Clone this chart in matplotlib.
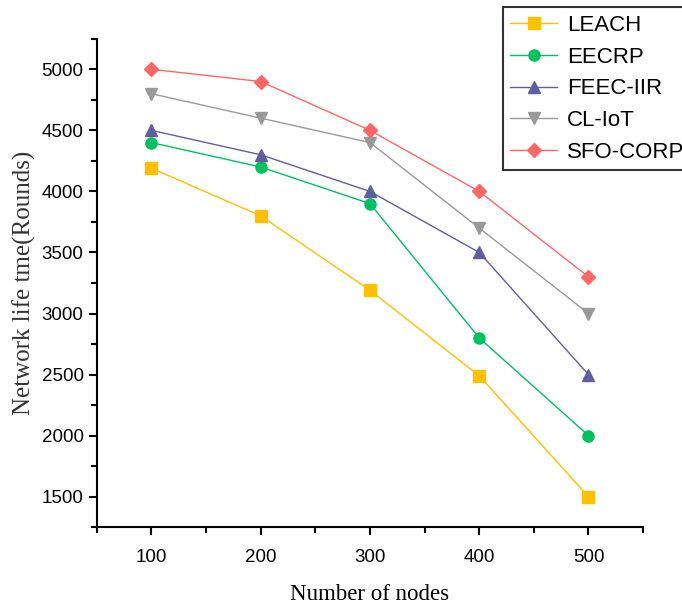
import matplotlib
matplotlib.use("Agg")
import matplotlib.pyplot as plt
from matplotlib.ticker import MultipleLocator

nodes = [100, 200, 300, 400, 500]
leach = [4190, 3800, 3190, 2490, 1500]
eecrp = [4400, 4200, 3900, 2800, 2000]
feec = [4500, 4300, 4000, 3500, 2500]
cliot = [4800, 4600, 4400, 3700, 3000]
sfo = [5000, 4900, 4500, 4000, 3300]

series = [
    ("LEACH", leach, "#FFC000", "s"),
    ("EECRP", eecrp, "#00C060", "o"),
    ("FEEC-IIR", feec, "#5F5F9F", "^"),
    ("CL-IoT", cliot, "#999999", "v"),
    ("SFO-CORP", sfo, "#FF6666", "D"),
]

fig = plt.figure(figsize=(6.82, 6.06), dpi=100)
ax = fig.add_axes([0.142, 0.130, 0.801, 0.806])

for name, vals, col, mk in series:
    ax.plot(nodes, vals, color=col, marker=mk, markersize=8 if mk != "D" else 7,
            linewidth=1.0, label=name)

ax.set_xlim(50, 550)
ax.set_ylim(1250, 5250)
ax.xaxis.set_minor_locator(MultipleLocator(50))
ax.yaxis.set_minor_locator(MultipleLocator(250))
ax.set_yticks([1500, 2000, 2500, 3000, 3500, 4000, 4500, 5000])
ax.set_xticks(nodes)

for s in ["top", "right"]:
    ax.spines[s].set_visible(False)
for s in ["left", "bottom"]:
    ax.spines[s].set_linewidth(1.5)

ax.tick_params(which="major", direction="out", length=6, width=1.5,
               labelsize=13.5)
ax.tick_params(which="minor", direction="out", length=4, width=1.5)
for lbl in ax.get_xticklabels() + ax.get_yticklabels():
    lbl.set_family("Liberation Sans")
ax.tick_params(axis="x", pad=10)

ax.set_xlabel("Number of nodes", family="Liberation Serif", fontsize=16.5, labelpad=13)
ax.set_ylabel("Network life tme(Rounds)", family="Liberation Serif", fontsize=18,
              color="#333333", labelpad=4)

leg = fig.legend(loc="upper left", bbox_to_anchor=(0.737, 0.988),
                 prop={"family": "Liberation Sans", "size": 16},
                 frameon=True, fancybox=False, edgecolor="black",
                 handlelength=2.1, borderpad=0.35, labelspacing=0.48,
                 handletextpad=0.45, borderaxespad=0)
leg.get_frame().set_linewidth(1.5)

fig.savefig("out.png", dpi=100)
